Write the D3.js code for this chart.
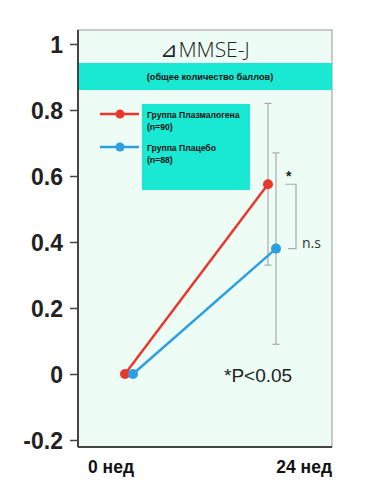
<!DOCTYPE html>
<html>
<head>
<meta charset="utf-8">
<script src="https://cdn.jsdelivr.net/npm/d3@7"></script>
<style>
  body { margin: 0; background: #fff; }
  svg { font-family: "Liberation Sans", Arial, sans-serif; }
</style>
</head>
<body>
<script>
'use strict';

// data
const weeks = [0, 24];
const weekLabels = ['0 нед', '24 нед'];
const yTicks = [-0.2, 0, 0.2, 0.4, 0.6, 0.8, 1];
const seriesNames = ['Группа Плазмалогена', 'Группа Плацебо'];
const seriesN = ['(n=90)', '(n=88)'];
const seriesColors = ['#e8382b', '#2d9fe0'];
const plasmalogen = [0, 0.575];
const placebo = [0, 0.38];
const errPlasmalogen = [0, 0.245];
const errPlacebo = [0, 0.29];

(function() {

const W = 373, H = 503;
const frame = {left: 78, right: 332, top: 30, bottom: 447};

let svg = d3.select('body').append('svg')
    .attr('width', W)
    .attr('height', H);

let y = d3.scaleLinear().domain([-0.2, 1]).range([440, 44]);
let x = d3.scaleLinear().domain([0, 24]).range([125, 268]);
const dodge = [0, 8];

// background + frame
svg.append('rect')
    .attr('x', frame.left).attr('y', frame.top)
    .attr('width', frame.right - frame.left)
    .attr('height', frame.bottom - frame.top)
    .attr('fill', '#edfcf4')
    .attr('stroke', '#a8a8a8')
    .attr('stroke-width', 1.2);

// title band
svg.append('rect')
    .attr('x', frame.left).attr('y', 63)
    .attr('width', frame.right - frame.left).attr('height', 27)
    .attr('fill', '#19e8d2');

svg.append('text')
    .attr('x', 205).attr('y', 57)
    .attr('text-anchor', 'middle')
    .style('font-family', '"Open Sans", sans-serif')
    .style('font-weight', 300)
    .style('font-size', '21px')
    .attr('fill', '#222')
    .text('⊿MMSE-J');

svg.append('text')
    .attr('x', 210).attr('y', 80)
    .attr('text-anchor', 'middle')
    .style('font-weight', 'bold')
    .style('font-size', '9.2px')
    .attr('fill', '#111')
    .text('(общее количество баллов)');

// y axis
let yAxis = svg.append('g')
    .attr('transform', 'translate(' + frame.left + ',0)')
    .call(d3.axisLeft(y).tickValues(yTicks).tickSize(8).tickPadding(7)
        .tickFormat(d => d === 0 ? '0' : d === 1 ? '1' : d3.format('.1f')(d).replace('−', '-')));
yAxis.select('.domain').remove();
yAxis.selectAll('line').attr('stroke', '#444').attr('stroke-width', 1.5);
yAxis.selectAll('text')
    .attr('dy', '0.36em')
    .style('font-family', '"Liberation Sans", Arial, sans-serif')
    .style('font-weight', 'bold')
    .style('font-size', '23px')
    .attr('fill', '#222');

// left and bottom axis lines
svg.append('line')
    .attr('x1', frame.left).attr('x2', frame.left)
    .attr('y1', frame.top).attr('y2', frame.bottom)
    .attr('stroke', '#444').attr('stroke-width', 2);
svg.append('line')
    .attr('x1', frame.left).attr('x2', frame.right)
    .attr('y1', frame.bottom).attr('y2', frame.bottom)
    .attr('stroke', '#444').attr('stroke-width', 2);

// x labels
svg.selectAll('.xlab')
    .data(weekLabels)
  .enter().append('text')
    .attr('class', 'xlab')
    .attr('x', (d, i) => i === 0 ? frame.left + 10 : frame.right)
    .attr('y', 473)
    .attr('text-anchor', (d, i) => i === 0 ? 'start' : 'end')
    .style('font-weight', 'bold')
    .style('font-size', '17.5px')
    .attr('fill', '#111')
    .text(d => d);

// legend
svg.append('rect')
    .attr('x', 142).attr('y', 104)
    .attr('width', 108).attr('height', 86)
    .attr('fill', '#19e8d2');

const legY = [114, 147];
seriesNames.forEach(function(name, i) {
  svg.append('line')
      .attr('x1', 100).attr('x2', 139)
      .attr('y1', legY[i]).attr('y2', legY[i])
      .attr('stroke', seriesColors[i]).attr('stroke-width', 2.5);
  svg.append('circle')
      .attr('cx', 120).attr('cy', legY[i]).attr('r', 4.5)
      .attr('fill', seriesColors[i]);
  svg.append('text')
      .attr('x', 147).attr('y', legY[i] + 4)
      .style('font-weight', 'bold').style('font-size', '8.6px')
      .attr('fill', '#111')
      .text(name);
  svg.append('text')
      .attr('x', 147).attr('y', legY[i] + 16)
      .style('font-weight', 'bold').style('font-size', '8.6px')
      .attr('fill', '#111')
      .text(seriesN[i]);
});

// error bars (only at 24 weeks)
const series = [
  {values: plasmalogen, err: errPlasmalogen},
  {values: placebo, err: errPlacebo}
];

series.forEach(function(s, si) {
  s.values.forEach(function(v, i) {
    if (!s.err[i]) return;
    const cx = x(weeks[i]) + dodge[si];
    const g = svg.append('g').attr('stroke', '#aaa').attr('stroke-width', 1.2);
    g.append('line')
        .attr('x1', cx).attr('x2', cx)
        .attr('y1', y(v + s.err[i])).attr('y2', y(v - s.err[i]));
    [v + s.err[i], v - s.err[i]].forEach(function(e) {
      g.append('line')
          .attr('x1', cx - 3.5).attr('x2', cx + 3.5)
          .attr('y1', y(e)).attr('y2', y(e));
    });
  });
});

// lines and points
let line = d3.line()
    .x(function(d) { return d[0]; })
    .y(function(d) { return d[1]; });

series.forEach(function(s, si) {
  const pts = s.values.map((v, i) => [x(weeks[i]) + dodge[si], y(v)]);
  svg.append('path')
      .attr('d', line(pts))
      .attr('fill', 'none')
      .attr('stroke', seriesColors[si])
      .attr('stroke-width', 2.5);
});
series.forEach(function(s, si) {
  svg.selectAll(null)
      .data(s.values)
    .enter().append('circle')
      .attr('cx', (d, i) => x(weeks[i]) + dodge[si])
      .attr('cy', d => y(d))
      .attr('r', 5)
      .attr('fill', seriesColors[si]);
});

// significance bracket
const bx = x(24) + 28;
const yTop = y(plasmalogen[1]), yBot = y(placebo[1]);
svg.append('path')
    .attr('d', 'M' + (bx - 11) + ',' + yTop + 'H' + bx + 'V' + yBot + 'H' + (bx - 8))
    .attr('fill', 'none')
    .attr('stroke', '#aaa')
    .attr('stroke-width', 1.2);
svg.append('text')
    .attr('x', bx - 10).attr('y', yTop - 3)
    .style('font-size', '14px').style('font-weight', 'bold')
    .attr('fill', '#222')
    .text('*');
svg.append('text')
    .attr('x', bx + 6).attr('y', yBot - 1)
    .style('font-family', '"Open Sans", sans-serif')
    .style('font-size', '14px')
    .attr('fill', '#333')
    .text('n.s');

svg.append('text')
    .attr('x', 224).attr('y', 382)
    .style('font-size', '19px')
    .attr('fill', '#222')
    .text('*P<0.05');

})();
</script>
</body>
</html>
